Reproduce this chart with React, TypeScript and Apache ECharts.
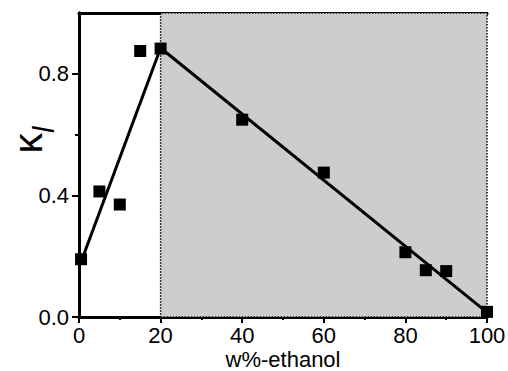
import React, { useEffect, useRef } from "react";
import * as echarts from "echarts";

const xTickLabels = [0, 20, 40, 60, 80, 100];
const yTickLabels = [0, 0.4, 0.8];
const yMinorTicks = [0.2, 0.6];

const measuredX = [0.5, 5, 10, 15, 20, 40, 60, 80, 85, 90, 100];
const measuredY = [0.19, 0.413, 0.37, 0.875, 0.883, 0.649, 0.475, 0.213, 0.154, 0.151, 0.017];

const fit1X = [0.66, 20];
const fit1Y = [0.187, 0.885];
const fit2X = [20, 100];
const fit2Y = [0.885, 0.015];

const shadedFrom = 20;
const shadedTo = 100;

const FONT = "'Liberation Sans', Arial, sans-serif";

export default function App() {
  const ref = useRef<HTMLDivElement>(null);
  useEffect(() => {
    if (!ref.current) return;
    const chart = echarts.init(ref.current, null, { renderer: "svg" });
    const pairs = (xs: number[], ys: number[]) => xs.map((x, i) => [x, ys[i]]);
    chart.setOption({
      animation: false,
      backgroundColor: "#fff",
      textStyle: { fontFamily: FONT },
      grid: { left: 79, right: 21, top: 13, bottom: 54, outerBoundsMode: "none" },
      xAxis: [
        {
          type: "value",
          min: 0,
          max: 100,
          interval: 20,
          position: "bottom",
          name: "w%-ethanol",
          nameLocation: "middle",
          nameGap: 31,
          nameMoveOverlap: false,
          nameTextStyle: { fontSize: 22, color: "#000", fontFamily: FONT },
          axisLine: { show: true, onZero: false, lineStyle: { color: "#000", width: 3 } },
          axisTick: { show: true, inside: false, length: 6, lineStyle: { color: "#000", width: 2 } },
          minorTick: { show: true, splitNumber: 2, length: 3, lineStyle: { color: "#000", width: 2 } },
          axisLabel: { fontSize: 22, color: "#000", margin: 7, fontFamily: FONT },
          splitLine: { show: false },
        },
        {
          type: "value",
          min: 0,
          max: 100,
          position: "top",
          axisLine: { show: true, onZero: false, lineStyle: { color: "#000", width: 3 } },
          axisTick: { show: false },
          axisLabel: { show: false },
          splitLine: { show: false },
        },
      ],
      yAxis: [
        {
          type: "value",
          min: 0,
          max: 1,
          interval: 0.2,
          position: "left",
          name: "{k|κ}{l|l}",
          nameLocation: "middle",
          nameRotate: 90,
          nameGap: 32,
          nameMoveOverlap: false,
          nameTextStyle: {
            padding: [0, 0, 0, 50],
            rich: {
              k: { fontSize: 41, fontFamily: FONT, color: "#000", lineHeight: 40, verticalAlign: "top" },
              l: { fontSize: 29, fontFamily: FONT, fontStyle: "italic", color: "#000", lineHeight: 29, verticalAlign: "top", padding: [22, 0, 0, 0] },
            },
          },
          axisLine: { show: true, onZero: false, lineStyle: { color: "#000", width: 3 } },
          axisTick: { show: true, inside: false, length: 7, lineStyle: { color: "#000", width: 2 }, customValues: yTickLabels },
          axisLabel: {
            fontSize: 22,
            color: "#000",
            margin: 10,
            fontFamily: FONT,
            customValues: yTickLabels,
            formatter: (v: number) => v.toFixed(1),
          },
          splitLine: { show: false },
        },
        {
          type: "value",
          min: 0,
          max: 1,
          interval: 0.2,
          position: "left",
          offset: 0,
          axisLine: { show: true, onZero: false, lineStyle: { color: "#000", width: 3 } },
          axisTick: { show: true, inside: false, length: 4, lineStyle: { color: "#000", width: 2 }, customValues: yMinorTicks },
          axisLabel: { show: false },
          splitLine: { show: false },
        },
      ],
      series: [
        {
          type: "line",
          data: pairs(fit1X, fit1Y),
          symbol: "none",
          lineStyle: { color: "#000", width: 3 },
          z: 3,
          markArea: {
            silent: true,
            itemStyle: { color: "#cdcdcd", borderColor: "#000", borderWidth: 1.5, borderType: "dotted" },
            data: [[{ xAxis: shadedFrom }, { xAxis: shadedTo }]],
          },
        },
        {
          type: "line",
          data: pairs(fit2X, fit2Y),
          symbol: "none",
          lineStyle: { color: "#000", width: 3 },
          z: 3,
        },
        {
          type: "scatter",
          data: pairs(measuredX, measuredY),
          symbol: "rect",
          symbolSize: 12,
          itemStyle: { color: "#000", opacity: 1 },
          clip: false,
          z: 4,
        },
      ],
    });
    return () => chart.dispose();
  }, []);
  return <div ref={ref} style={{ position: "fixed", left: 0, top: 0, width: 508, height: 371 }} />;
}
